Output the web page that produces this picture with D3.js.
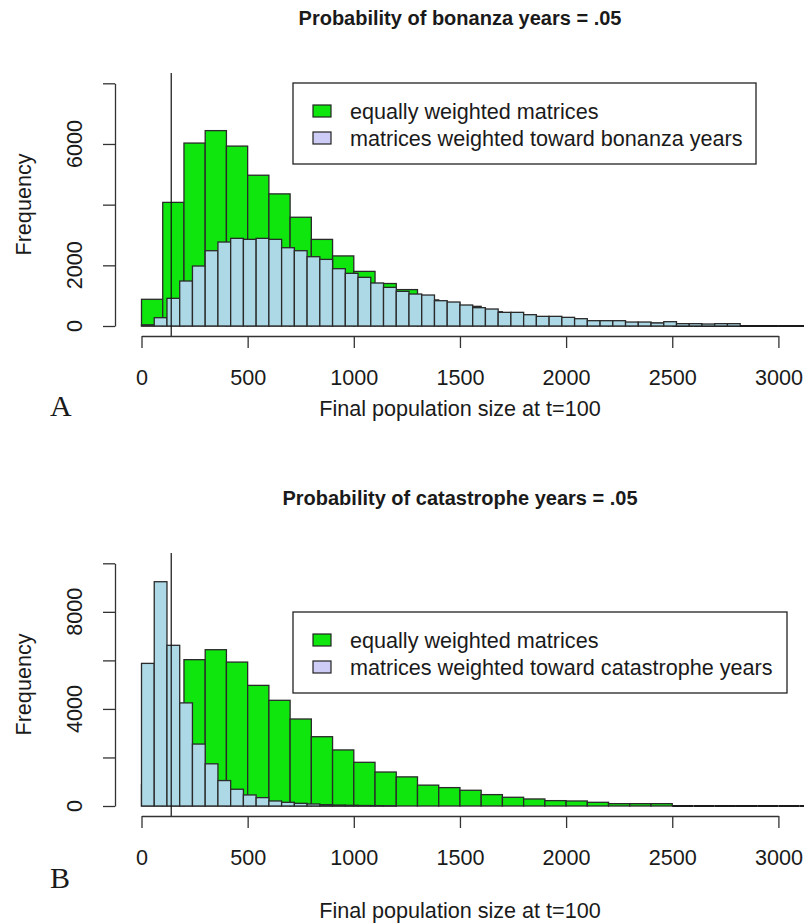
<!DOCTYPE html>
<html>
<head>
<meta charset="utf-8">
<script src="https://cdn.jsdelivr.net/npm/d3@7"></script>
<style>
  body { margin: 0; background: #fff; }
  text { font-family: "Liberation Sans", Arial, sans-serif; fill: #1a1a1a; }
</style>
</head>
<body>
<script>
let w = 804;
let h = 924;

// histogram counts
let greenBinWidth = 100;
let blueBinWidth = 60;

// equally weighted matrices (same in both panels), bins of 100 from 0
let equalCounts = [880, 4075, 6030, 6440, 5930, 4970, 4355, 3585, 2855, 2310,
  1800, 1400, 1200, 860, 758, 648, 469, 359, 290, 221,
  207, 152, 97, 97, 97, 0, 0, 0, 0, 0, 0, 0];

// weighted toward bonanza years, bins of 60 from 0
let bonanzaCounts = [40, 274, 912, 1483, 1977, 2482, 2768, 2889, 2856, 2889,
  2856, 2580, 2482, 2284, 2196, 1889, 1736, 1604, 1417, 1274,
  1142, 1054, 1021, 834, 791, 692, 604, 560, 450, 450,
  373, 318, 318, 285, 241, 175, 175, 175, 131, 131,
  99, 142, 77, 77, 66, 77, 77, 0, 0, 0, 0, 0, 0, 0];

// weighted toward catastrophe years, bins of 60 from 0
let catastropheCounts = [5876, 9241, 6621, 4248, 2552, 1738, 1048, 690, 455, 345,
  207, 152, 110, 83, 55, 40, 30, 20, 15, 10];

let xTicks = [0, 500, 1000, 1500, 2000, 2500, 3000];
let xTickLabels = ["0", "500", "1000", "1500", "2000", "2500", "3000"];
let vLine = 140;

let topYTicks = [0, 2000, 4000, 6000, 8000];
let topYLabels = ["0", "2000", "", "6000", ""];
let botYTicks = [0, 2000, 4000, 6000, 8000, 10000];
let botYLabels = ["0", "", "4000", "", "8000", ""];

let xScale = d3.scaleLinear()
  .domain([0, 3000])
  .range([141.5, 778.4]);

let svg = d3.select("body")
  .append("svg")
  .attr("width", w)
  .attr("height", h);

function toBins(counts, width) {
  return counts.map((c, i) => ({ x0: i * width, x1: (i + 1) * width, n: c }));
}

function drawPanel(p) {
  let yScale = d3.scaleLinear()
    .domain([0, p.yMax])
    .range([p.y0, p.yTopPx]);

  let g = svg.append("g");

  // plot region clip, like R's plot region
  let clipId = "clip-" + p.id;
  svg.append("clipPath")
    .attr("id", clipId)
    .append("rect")
    .attr("x", 116)
    .attr("y", p.plotTop)
    .attr("width", w - 116)
    .attr("height", p.plotBottom - p.plotTop);

  let bars = g.append("g").attr("clip-path", "url(#" + clipId + ")");

  [[toBins(equalCounts, greenBinWidth), "#0ee60e"],
   [toBins(p.blue, blueBinWidth), "#add8e6"]].forEach(([bins, col]) => {
    let layer = bars.append("g");
    layer.selectAll("rect")
      .data(bins.filter((d) => d.n > 0))
      .enter()
      .append("rect")
      .attr("x", (d) => xScale(d.x0))
      .attr("y", (d) => yScale(d.n))
      .attr("width", (d) => xScale(d.x1) - xScale(d.x0))
      .attr("height", (d) => yScale(0) - yScale(d.n))
      .attr("fill", col)
      .attr("stroke", "#2a2a2a")
      .attr("stroke-width", 1.3);
    // empty bins still leave their outline on the baseline
    layer.selectAll("line")
      .data(bins.filter((d) => d.n === 0))
      .enter()
      .append("line")
      .attr("x1", (d) => xScale(d.x0))
      .attr("x2", (d) => xScale(d.x1))
      .attr("y1", yScale(0))
      .attr("y2", yScale(0))
      .attr("stroke", "#1a1a1a")
      .attr("stroke-width", 2);
  });

  bars.append("line")
    .attr("x1", xScale(vLine))
    .attr("x2", xScale(vLine))
    .attr("y1", p.plotTop)
    .attr("y2", p.plotBottom)
    .attr("stroke", "#111")
    .attr("stroke-width", 1.2);

  // x axis
  let xAxis = d3.axisBottom(xScale)
    .tickValues(xTicks)
    .tickFormat((d, i) => xTickLabels[i])
    .tickSize(12)
    .tickSizeOuter(0)
    .tickPadding(p.xPad);

  g.append("g")
    .attr("transform", "translate(0," + p.plotBottom + ")")
    .call(xAxis)
    .call((a) => {
      a.selectAll("path, line").attr("stroke", "#333").attr("stroke-width", 1.3);
      a.selectAll("text").style("font-size", "21.6px").attr("fill", "#1a1a1a")
        .style("font-family", "'Liberation Sans', Arial, sans-serif");
    });

  // y axis
  let yAxis = d3.axisLeft(yScale)
    .tickValues(p.yTicks)
    .tickFormat("")
    .tickSize(12)
    .tickSizeOuter(0);

  g.append("g")
    .attr("transform", "translate(115,0)")
    .call(yAxis)
    .call((a) => {
      a.selectAll("path, line").attr("stroke", "#333").attr("stroke-width", 1.3);
    });

  g.append("g")
    .selectAll("text")
    .data(p.yTicks)
    .enter()
    .append("text")
    .attr("transform", (d) => "translate(82," + yScale(d) + ") rotate(-90)")
    .attr("text-anchor", "middle")
    .style("font-size", "21.6px")
    .text((d, i) => p.yLabels[i]);

  g.append("text")
    .attr("transform", "translate(31," + (p.plotTop + p.plotBottom) / 2 + ") rotate(-90)")
    .attr("text-anchor", "middle")
    .style("font-size", "21.6px")
    .text("Frequency");

  g.append("text")
    .attr("x", 460)
    .attr("y", p.titleY)
    .attr("text-anchor", "middle")
    .style("font-size", "20px")
    .style("font-weight", "bold")
    .text(p.title);

  g.append("text")
    .attr("x", 460)
    .attr("y", p.xTitleY)
    .attr("text-anchor", "middle")
    .style("font-size", "21.6px")
    .text("Final population size at t=100");

  g.append("text")
    .attr("x", 50)
    .attr("y", p.letterY)
    .style("font-family", "'Liberation Serif', 'Times New Roman', serif")
    .style("font-size", "30px")
    .text(p.letter);

  // legend
  let lg = g.append("g").attr("transform", "translate(293," + p.legY + ")");
  lg.append("rect")
    .attr("width", p.legW)
    .attr("height", 81)
    .attr("fill", "#fff")
    .attr("stroke", "#222")
    .attr("stroke-width", 1.3);
  let items = [["equally weighted matrices", "#0ee60e"], [p.legendLabel, "#ccccf7"]];
  lg.selectAll("g.item")
    .data(items)
    .enter()
    .append("g")
    .attr("class", "item")
    .attr("transform", (d, i) => "translate(0," + (i * 27) + ")")
    .each(function(d) {
      let it = d3.select(this);
      it.append("rect")
        .attr("x", 20)
        .attr("y", 22)
        .attr("width", 18)
        .attr("height", 12)
        .attr("fill", d[1])
        .attr("stroke", "#222")
        .attr("stroke-width", 1.2);
      it.append("text")
        .attr("x", 57)
        .attr("y", 36)
        .style("font-size", "21.6px")
        .text(d[0]);
    });
}

drawPanel({
  id: "a",
  blue: bonanzaCounts,
  yMax: 8000,
  y0: 326,
  yTopPx: 83.3,
  plotTop: 73,
  plotBottom: 336,
  yTicks: topYTicks,
  yLabels: topYLabels,
  xPad: 22,
  title: "Probability of bonanza years = .05",
  titleY: 25,
  xTitleY: 416,
  letter: "A",
  letterY: 416,
  legY: 83,
  legW: 463,
  legendLabel: "matrices weighted toward bonanza years"
});

drawPanel({
  id: "b",
  blue: catastropheCounts,
  yMax: 10000,
  y0: 806,
  yTopPx: 563.3,
  plotTop: 553,
  plotBottom: 816,
  yTicks: botYTicks,
  yLabels: botYLabels,
  xPad: 22,
  title: "Probability of catastrophe years = .05",
  titleY: 505,
  xTitleY: 918,
  letter: "B",
  letterY: 888,
  legY: 612,
  legW: 494,
  legendLabel: "matrices weighted toward catastrophe years"
});
</script>
</body>
</html>
